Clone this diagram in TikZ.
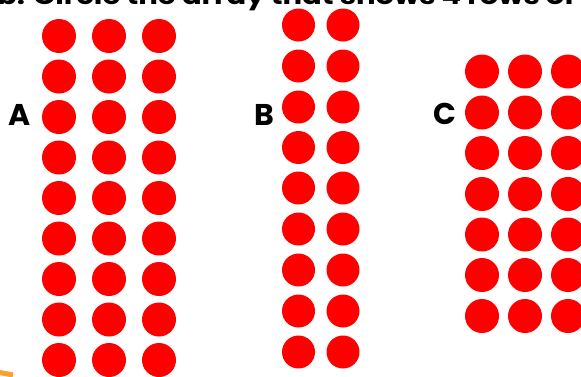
\documentclass[tikz,border=0pt]{standalone}
\usepackage{fontspec}
\setmainfont{Poppins}
\definecolor{orng}{RGB}{250,160,50}
\begin{document}
\begin{tikzpicture}[x=1pt,y=-1pt,
  dot/.style={circle,fill=red,minimum size=34pt,inner sep=0pt},
  lbl/.style={font=\fontsize{30}{30}\selectfont\bfseries,text=black,inner sep=0pt},
  ttl/.style={font=\fontsize{24}{24}\selectfont\bfseries,text=black,inner sep=0pt,anchor=base west}]
\useasboundingbox (0,0) rectangle (581,376);
\clip (0,0) rectangle (581,376);
% title (cut off)
\node[ttl] (title) at (-3,4.5) {\scalebox{1.21}[1]{b. Circle the array that shows 4 rows of}};
% array A
\foreach \c [count=\i] in {59,109,159}{
  \foreach \r [count=\j] in {36,76.5,117,157.5,198,238.5,279,319.5,360}{
    \node[dot] (a-\i-\j) at (\c,\r) {};
  }
}
% array B
\foreach \c [count=\i] in {298.5,343}{
  \foreach \r [count=\j] in {25,66,107,147.5,188,229,270,311,352}{
    \node[dot,minimum size=33pt] (b-\i-\j) at (\c,\r) {};
  }
}
% array C
\foreach \c [count=\i] in {482,525,568}{
  \foreach \r [count=\j] in {71.5,112.5,153,194,234.5,275,316}{
    \node[dot] (c-\i-\j) at (\c,\r) {};
  }
}
\node[lbl] (la) at (20,115) {A};
\node[lbl] (lb) at (264,115) {B};
\node[lbl] (lc) at (445,114) {C};
% orange stroke fragment
\coordinate (o1) at (-3,372);
\coordinate (o2) at (13,375);
\draw[orng,line width=5pt] (o1) -- (o2);
\end{tikzpicture}
\end{document}
